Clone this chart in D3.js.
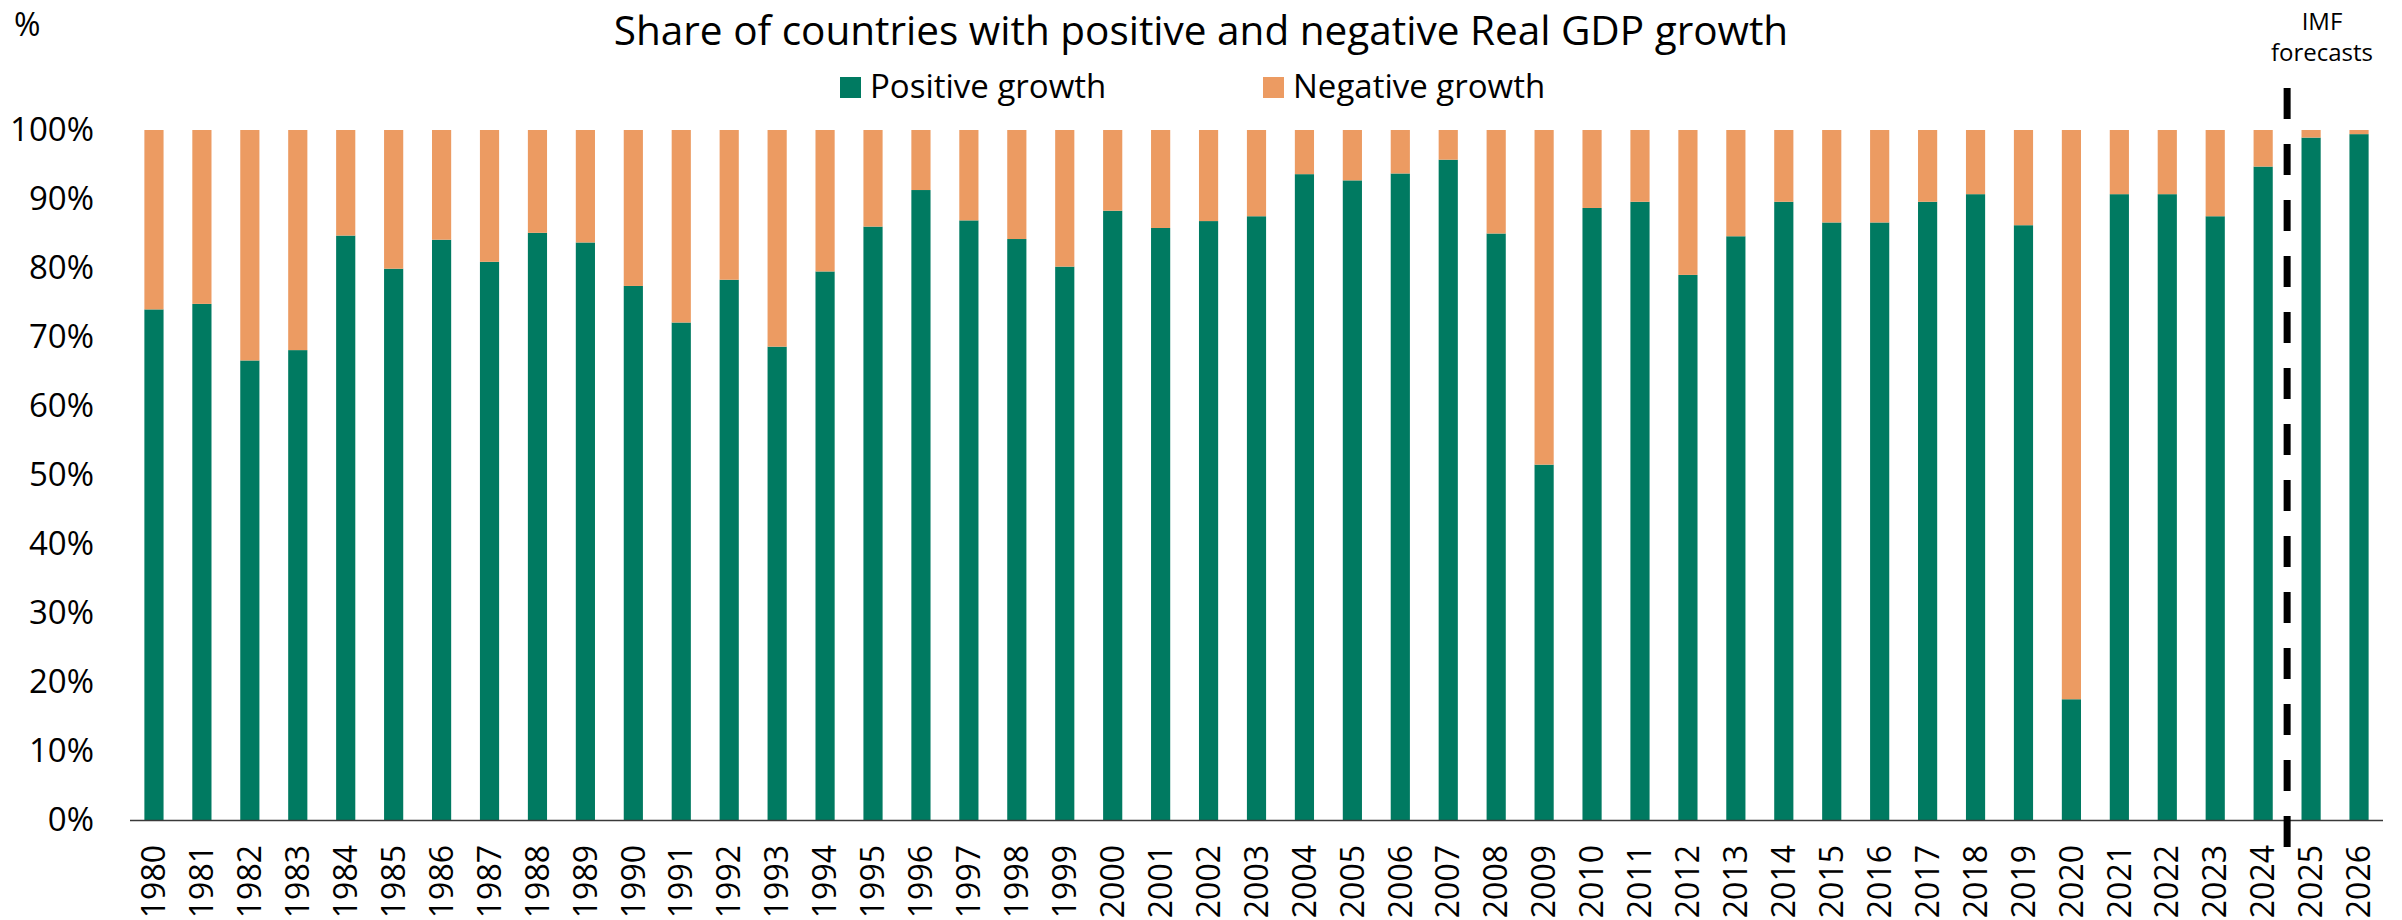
<!DOCTYPE html>
<html>
<head>
<meta charset="utf-8">
<script src="https://cdn.jsdelivr.net/npm/d3@7"></script>
<style>
  html, body { margin: 0; padding: 0; background: #fff; }
  svg text { font-family: "Open Sans", "Noto Sans", sans-serif; fill: #000; }
</style>
</head>
<body>
<svg id="chart" width="2402" height="920"></svg>
<script>
// ---- Data ----
const years = ["1980","1981","1982","1983","1984","1985","1986","1987","1988","1989",
  "1990","1991","1992","1993","1994","1995","1996","1997","1998","1999",
  "2000","2001","2002","2003","2004","2005","2006","2007","2008","2009",
  "2010","2011","2012","2013","2014","2015","2016","2017","2018","2019",
  "2020","2021","2022","2023","2024","2025","2026"];
const positiveGrowth = [74.0,74.8,66.6,68.1,84.7,79.9,84.1,80.9,85.1,83.7,
  77.4,72.1,78.3,68.6,79.5,86.0,91.3,86.9,84.2,80.2,
  88.3,85.8,86.8,87.5,93.6,92.7,93.7,95.7,85.0,51.5,
  88.7,89.6,79.0,84.6,89.6,86.6,86.6,89.6,90.7,86.2,
  17.5,90.7,90.7,87.5,94.7,98.9,99.4];
const negativeGrowth = [26.0,25.2,33.4,31.9,15.3,20.1,15.9,19.1,14.9,16.3,
  22.6,27.9,21.7,31.4,20.5,14.0,8.7,13.1,15.8,19.8,
  11.7,14.2,13.2,12.5,6.4,7.3,6.3,4.3,15.0,48.5,
  11.3,10.4,21.0,15.4,10.4,13.4,13.4,10.4,9.3,13.8,
  82.5,9.3,9.3,12.5,5.3,1.1,0.6];
const seriesNames = ["Positive growth", "Negative growth"];
const seriesColors = ["#007a61", "#ec9b62"];
const yTicks = [0,10,20,30,40,50,60,70,80,90,100];
const titleText = "Share of countries with positive and negative Real GDP growth";
const yUnitLabel = "%";
const forecastLabel = ["IMF", "forecasts"];
const forecastStartYear = "2025";

// ---- Layout ----
const svg = d3.select("#chart");
const x = d3.scaleBand().domain(years).range([130, 2383]).paddingInner(0.6).paddingOuter(0.3);
const y = d3.scaleLinear().domain([0, 100]).range([820, 130]);

const rows = years.map((yr, i) => ({ year: yr, pos: positiveGrowth[i], neg: negativeGrowth[i] }));
const stack = d3.stack().keys(["pos", "neg"])(rows);

// Bars
svg.append("g").selectAll("g").data(stack).join("g")
  .attr("fill", (d, i) => seriesColors[i])
  .selectAll("rect").data(d => d).join("rect")
  .attr("x", d => x(d.data.year))
  .attr("width", x.bandwidth())
  .attr("y", d => y(d[1]))
  .attr("height", d => y(d[0]) - y(d[1]));

// Y axis (labels only)
const yAxis = d3.axisLeft(y).tickValues(yTicks).tickFormat(d => d + "%").tickSize(0).tickPadding(0);
const gy = svg.append("g").attr("transform", "translate(94,0)").call(yAxis);
gy.select(".domain").remove();
gy.selectAll("text").attr("font-size", 33).attr("font-family", "'Open Sans', sans-serif").attr("fill", "#000");

// X axis
const xAxis = d3.axisBottom(x).tickSize(0).tickPadding(0);
const gx = svg.append("g").attr("transform", "translate(0,820)").call(xAxis);
gx.select(".domain").attr("stroke", "#3a3a3a").attr("stroke-width", 1.6)
  .attr("d", `M130,0.5H2383`);
gx.selectAll(".tick text")
  .attr("font-size", 32)
  .attr("font-family", "'Open Sans', sans-serif")
  .attr("fill", "#000")
  .attr("text-anchor", "end")
  .attr("transform", "translate(0,25) rotate(-90)")
  .attr("x", 0).attr("y", 0).attr("dy", "0.35em");

// Title
svg.append("text").attr("x", 1201).attr("y", 45).attr("text-anchor", "middle")
  .attr("font-size", 40.5).text(titleText);

// Unit label
svg.append("text").attr("x", 14).attr("y", 36).attr("font-size", 32).text(yUnitLabel);

// Legend
const legendX = [840, 1263];
seriesNames.forEach((name, i) => {
  svg.append("rect").attr("x", legendX[i]).attr("y", 77).attr("width", 21).attr("height", 21)
    .attr("fill", seriesColors[i]);
  svg.append("text").attr("x", legendX[i] + 30).attr("y", 98).attr("font-size", 33).text(name);
});

// Forecast divider
const idx = years.indexOf(forecastStartYear);
const xDiv = (x(years[idx - 1]) + x(years[idx]) + x.bandwidth()) / 2;
svg.append("line").attr("x1", xDiv).attr("x2", xDiv).attr("y1", 88).attr("y2", 847)
  .attr("stroke", "#000").attr("stroke-width", 7).attr("stroke-dasharray", "31,25");

const fl = svg.append("text").attr("text-anchor", "middle").attr("font-size", 24);
forecastLabel.forEach((t, i) => {
  fl.append("tspan").attr("x", 2322).attr("y", 30 + i * 31).text(t);
});
</script>
</body>
</html>
